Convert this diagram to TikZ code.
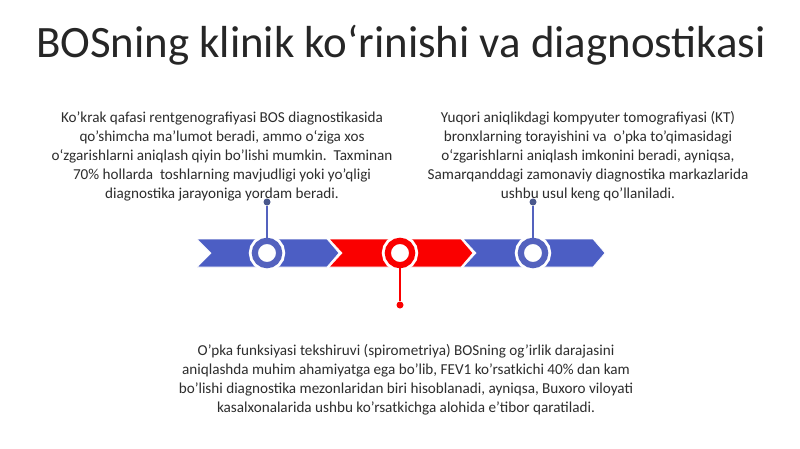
\documentclass[tikz,border=0pt]{standalone}
\usepackage{fontspec}
\setmainfont{Carlito}
\usepackage{xcolor}
\usepackage{tikz}
\usetikzlibrary{positioning, calc}
\definecolor{stepBlue}{RGB}{76, 94, 196}
\definecolor{ringBlue}{RGB}{84, 98, 190}
\definecolor{dotBlue}{RGB}{74, 88, 140}
\definecolor{stepRed}{RGB}{250, 0, 0}
\definecolor{textGray}{RGB}{45, 45, 45}

\begin{document}
\begin{tikzpicture}[
    x=0.03cm, y=-0.03cm,
    chevron/.style={draw=white, line width=0.6pt, line join=miter},
    ring/.style={circle, draw=#1, line width=1.85mm, fill=white, minimum size=7.3mm, inner sep=0pt,
        preaction={draw=white, line width=3.6mm}},
    dot/.style={circle, fill=#1, minimum size=2.1mm, inner sep=0pt},
    stem/.style={line width=1.2pt},
    blurb/.style={align=center, text=textGray, font=\fontsize{12.95}{16.2}\selectfont},
    heading/.style={text=black!85, font=\fontsize{38.3}{44}\selectfont}
]
    \useasboundingbox[fill=white] (0,0) rectangle (800,449);

    % Title
    \node[heading] (title) at (401,45) {BOSning klinik koʻrinishi va diagnostikasi};

    % Chevrons
    \fill[stepBlue, chevron] (197,239) -- (327,239) -- (339,253) -- (327,267) -- (197,267) -- (211,253) -- cycle;
    \fill[stepRed, chevron] (329,239) -- (461,239) -- (473,253) -- (461,267) -- (329,267) -- (342,253) -- cycle;
    \fill[stepBlue, chevron] (463,239) -- (593,239) -- (605,253) -- (593,267) -- (463,267) -- (476,253) -- cycle;

    % Rings
    \node[ring=ringBlue] (ringA) at (267,253) {};
    \node[ring=stepRed] (ringB) at (400,253) {};
    \node[ring=ringBlue] (ringC) at (533,253) {};

    % Dots
    \node[dot=dotBlue] (dotA) at (267,202) {};
    \node[dot=stepRed] (dotB) at (400,305) {};
    \node[dot=dotBlue] (dotC) at (533,202) {};

    % Stems
    \draw[stem, ringBlue] (dotA) -- (ringA);
    \draw[stem, stepRed] (ringB) -- (dotB);
    \draw[stem, ringBlue] (dotC) -- (ringC);

    % Texts
    \node[blurb] (xray) at (222,156) {Ko'krak qafasi rentgenografiyasi BOS diagnostikasida\\
        qo'shimcha ma'lumot beradi, ammo o‘ziga xos\\
        o‘zgarishlarni aniqlash qiyin bo'lishi mumkin.\ \ Taxminan\\
        70\% hollarda\ \ toshlarning mavjudligi yoki yo'qligi\\
        diagnostika jarayoniga yordam beradi.};
    \node[blurb] (kt) at (588,156) {Yuqori aniqlikdagi kompyuter tomografiyasi (KT)\\
        bronxlarning torayishini va\ \ o'pka to'qimasidagi\\
        o‘zgarishlarni aniqlash imkonini beradi, ayniqsa,\\
        Samarqanddagi zamonaviy diagnostika markazlarida\\
        ushbu usul keng qo'llaniladi.};
    \node[blurb] (spiro) at (406,380) {O'pka funksiyasi tekshiruvi (spirometriya) BOSning og'irlik darajasini\\
        aniqlashda muhim ahamiyatga ega bo'lib, FEV1 ko'rsatkichi 40\% dan kam\\
        bo'lishi diagnostika mezonlaridan biri hisoblanadi, ayniqsa, Buxoro viloyati\\
        kasalxonalarida ushbu ko'rsatkichga alohida e'tibor qaratiladi.};
\end{tikzpicture}
\end{document}
